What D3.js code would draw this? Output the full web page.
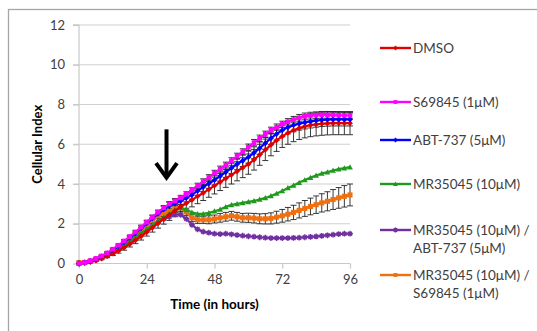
<!DOCTYPE html>
<html><head><meta charset="utf-8">
<script src="https://cdn.jsdelivr.net/npm/d3@7"></script>
<style>
html,body{margin:0;padding:0;background:#fff;}
svg{display:block;font-family:Lato,"Open Sans",sans-serif;}
</style></head>
<body>
<svg id="chart" width="537" height="331"></svg>
<script>
// ---- data ----
const hours = d3.range(0, 97, 2); // 0,2,...,96 sampling times
const xTicks = [0, 24, 48, 72, 96];
const yTicks = [0, 2, 4, 6, 8, 10, 12];
const seriesNames = ["DMSO", "S69845 (1μM)", "ABT-737 (5μM)", "MR35045 (10μM)", "MR35045 (10μM) /|ABT-737 (5μM)", "MR35045 (10μM) /|S69845 (1μM)"];
const seriesColors = ["#e00000", "#ff00ff", "#0000ff", "#1f9a1f", "#7030a0", "#f07010"];
const seriesMarkers = ["diamond", "square", "diamond", "triangle", "star", "square"];

const dmso = [0,0.03,0.08,0.15,0.25,0.37,0.5,0.64,0.8,0.98,1.17,1.37,1.58,1.8,2.02,2.24,2.45,2.65,2.85,3.03,3.2,3.38,3.55,3.73,3.92,4.1,4.28,4.46,4.64,4.82,5.0,5.22,5.47,5.72,5.97,6.2,6.4,6.57,6.7,6.81,6.9,6.96,7.0,7.03,7.05,7.06,7.06,7.06,7.06];
const s69845 = [0,0.05,0.14,0.25,0.38,0.53,0.72,0.92,1.13,1.35,1.58,1.83,2.08,2.33,2.58,2.8,3.0,3.15,3.3,3.48,3.68,3.9,4.12,4.33,4.55,4.75,4.95,5.17,5.4,5.62,5.85,6.08,6.3,6.5,6.7,6.86,7.0,7.13,7.24,7.33,7.4,7.44,7.46,7.48,7.48,7.47,7.46,7.45,7.45];
const abt737 = [0,0.05,0.13,0.23,0.36,0.51,0.69,0.88,1.08,1.29,1.52,1.77,2.02,2.27,2.5,2.72,2.9,3.03,3.15,3.3,3.45,3.65,3.85,4.02,4.2,4.4,4.6,4.8,5.0,5.17,5.35,5.57,5.8,6.05,6.3,6.52,6.7,6.85,6.96,7.04,7.1,7.15,7.19,7.22,7.24,7.25,7.25,7.25,7.25];
const mr35045 = [0,0.04,0.1,0.19,0.3,0.43,0.58,0.75,0.93,1.12,1.32,1.52,1.72,1.93,2.13,2.32,2.5,2.68,2.8,2.7,2.57,2.5,2.5,2.55,2.63,2.72,2.85,2.95,3.0,3.05,3.1,3.15,3.22,3.3,3.4,3.52,3.65,3.8,3.93,4.07,4.2,4.32,4.43,4.53,4.6,4.68,4.75,4.8,4.85];
const mrAbt = [0,0.04,0.1,0.18,0.28,0.4,0.54,0.7,0.88,1.06,1.25,1.45,1.65,1.88,2.08,2.25,2.35,2.47,2.45,2.25,1.95,1.72,1.6,1.55,1.5,1.48,1.5,1.47,1.43,1.4,1.37,1.35,1.32,1.3,1.28,1.28,1.28,1.28,1.29,1.3,1.32,1.34,1.36,1.39,1.42,1.45,1.48,1.5,1.5];
const mrS69 = [0.05,0.05,0.12,0.22,0.34,0.48,0.64,0.83,1.03,1.24,1.46,1.7,1.95,2.18,2.4,2.53,2.62,2.75,2.8,2.6,2.3,2.2,2.2,2.2,2.24,2.3,2.35,2.4,2.35,2.3,2.3,2.28,2.25,2.25,2.27,2.33,2.4,2.48,2.57,2.67,2.77,2.87,2.96,3.05,3.13,3.22,3.3,3.38,3.45];
const seriesValues = [dmso, s69845, abt737, mr35045, mrAbt, mrS69];

const dmsoErr = [0,0.02,0.03,0.05,0.06,0.08,0.1,0.12,0.13,0.15,0.17,0.19,0.2,0.22,0.24,0.26,0.28,0.3,0.31,0.33,0.35,0.37,0.38,0.4,0.42,0.43,0.45,0.46,0.48,0.5,0.51,0.52,0.53,0.54,0.55,0.56,0.56,0.57,0.57,0.57,0.58,0.58,0.58,0.58,0.58,0.58,0.58,0.58,0.58];
const s69845Err = [0,0.02,0.03,0.04,0.05,0.06,0.06,0.07,0.08,0.08,0.09,0.1,0.1,0.11,0.11,0.12,0.12,0.12,0.13,0.13,0.13,0.14,0.14,0.14,0.14,0.15,0.15,0.15,0.15,0.15,0.16,0.16,0.16,0.16,0.16,0.16,0.16,0.16,0.16,0.17,0.17,0.17,0.17,0.17,0.17,0.17,0.17,0.17,0.17];
const abt737Err = [0,0.02,0.03,0.04,0.05,0.06,0.07,0.08,0.09,0.1,0.11,0.12,0.13,0.14,0.15,0.16,0.17,0.18,0.19,0.2,0.21,0.22,0.23,0.24,0.25,0.26,0.27,0.28,0.28,0.29,0.3,0.3,0.31,0.31,0.32,0.32,0.32,0.33,0.33,0.33,0.33,0.33,0.33,0.33,0.33,0.33,0.33,0.33,0.33];
const mrS69Err = [0,0.02,0.03,0.04,0.05,0.06,0.07,0.08,0.09,0.1,0.11,0.12,0.13,0.14,0.15,0.16,0.17,0.18,0.18,0.18,0.18,0.18,0.18,0.2,0.2,0.22,0.22,0.22,0.22,0.22,0.23,0.24,0.25,0.26,0.28,0.3,0.32,0.34,0.36,0.38,0.4,0.42,0.44,0.46,0.48,0.5,0.52,0.54,0.55];
const seriesErrors = [dmsoErr, s69845Err, abt737Err, null, null, mrS69Err];

// ---- layout ----
const svg = d3.select("#chart");
const x = d3.scaleLinear().domain([0, 96]).range([79, 350]);
const y = d3.scaleLinear().domain([0, 12]).range([263.5, 25]);

// outer frame
svg.append("rect").attr("x", 8.5).attr("y", 9.5).attr("width", 600).attr("height", 400)
  .attr("fill", "none").attr("stroke", "#a6a6a6").attr("stroke-width", 1.3);

// gridlines
svg.append("g").selectAll("line").data(yTicks.filter(d => d > 0)).join("line")
  .attr("x1", 73).attr("x2", x(96)).attr("y1", d => y(d)).attr("y2", d => y(d))
  .attr("stroke", "#d0d0d0").attr("stroke-width", 1.2);

// y axis
const yAxis = d3.axisLeft(y).tickValues(yTicks).tickSize(6).tickPadding(8).tickFormat(d3.format("d"));
const gy = svg.append("g").attr("transform", `translate(${x(0)},0)`).call(yAxis);
gy.select(".domain").attr("stroke", "#c8c8c8").attr("stroke-width", 1.2).attr("d", `M-6,${y(12)}H0V${y(0)}`);
gy.selectAll(".tick line").attr("stroke", "#c8c8c8").attr("stroke-width", 1.2);
gy.selectAll(".tick text").attr("fill", "#404040").attr("font-size", 13).attr("font-family", "Lato,'Open Sans',sans-serif");

// x axis
const xAxis = d3.axisBottom(x).tickValues(xTicks).tickSize(5).tickPadding(6).tickFormat(d3.format("d"));
const gx = svg.append("g").attr("transform", `translate(0,${y(0)})`).call(xAxis);
gx.select(".domain").attr("stroke", "#c8c8c8").attr("stroke-width", 1.2).attr("d", `M${x(0)},0H${x(96)}`);
gx.selectAll(".tick line").attr("stroke", "#c8c8c8").attr("stroke-width", 1.2);
gx.selectAll(".tick text").attr("fill", "#404040").attr("font-size", 13).attr("font-family", "Lato,'Open Sans',sans-serif");

// axis titles
svg.append("text").attr("x", (x(0) + x(96)) / 2).attr("y", 309).attr("text-anchor", "middle")
  .attr("font-weight", "bold").attr("font-size", 13.5).attr("fill", "#000").text("Time (in hours)");
svg.append("text").attr("transform", `translate(42,${y(6)}) rotate(-90)`).attr("text-anchor", "middle")
  .attr("font-weight", "bold").attr("font-size", 13).attr("fill", "#000").text("Cellular Index");

// error bars (drawn beneath lines)
const errG = svg.append("g");
seriesValues.forEach((vals, si) => {
  const errs = seriesErrors[si];
  if (!errs) return;
  hours.forEach((h, i) => {
    if (errs[i] <= 0) return;
    const cx = x(h), y1 = y(vals[i] - errs[i]), y2 = y(vals[i] + errs[i]);
    errG.append("line").attr("x1", cx).attr("x2", cx).attr("y1", y1).attr("y2", y2)
      .attr("stroke", "#222").attr("stroke-width", 0.9);
    [y1, y2].forEach(yy => errG.append("line").attr("x1", cx - 3).attr("x2", cx + 3)
      .attr("y1", yy).attr("y2", yy).attr("stroke", "#222").attr("stroke-width", 0.9));
  });
});

// marker generator
function marker(g, type, cx, cy, color, s) {
  if (type === "diamond") {
    g.append("path").attr("d", `M${cx},${cy - s}L${cx + s},${cy}L${cx},${cy + s}L${cx - s},${cy}Z`).attr("fill", color);
  } else if (type === "square") {
    g.append("rect").attr("x", cx - s * 0.8).attr("y", cy - s * 0.8).attr("width", s * 1.6).attr("height", s * 1.6).attr("fill", color);
  } else if (type === "triangle") {
    g.append("path").attr("d", `M${cx},${cy - s}L${cx + s},${cy + s * 0.8}L${cx - s},${cy + s * 0.8}Z`).attr("fill", color);
  } else if (type === "star") {
    g.append("path").attr("d", `M${cx - s},${cy}H${cx + s}M${cx},${cy - s}V${cy + s}M${cx - s * 0.7},${cy - s * 0.7}L${cx + s * 0.7},${cy + s * 0.7}M${cx - s * 0.7},${cy + s * 0.7}L${cx + s * 0.7},${cy - s * 0.7}`)
      .attr("stroke", color).attr("stroke-width", 1.4);
  }
}

// lines
const drawOrder = [5, 4, 3, 0, 2, 1];
const lineGen = d3.line().x(d => x(d[0])).y(d => y(d[1]));
drawOrder.forEach(si => {
  const vals = seriesValues[si];
  const pts = hours.map((h, i) => [h, vals[i]]);
  const g = svg.append("g");
  g.append("path").attr("d", lineGen(pts)).attr("fill", "none")
    .attr("stroke", seriesColors[si]).attr("stroke-width", si === 5 ? 2.8 : 2.2);
  pts.forEach(p => marker(g, seriesMarkers[si], x(p[0]), y(p[1]), seriesColors[si], si === 5 ? 3.2 : 2.9));
});

// arrow annotation (treatment time)
const arrowT = 31;
const ag = svg.append("g").attr("stroke", "#000").attr("stroke-width", 4).attr("fill", "none").attr("stroke-linecap", "butt");
ag.append("line").attr("x1", x(arrowT)).attr("x2", x(arrowT)).attr("y1", y(6.75)).attr("y2", y(4.4));
ag.append("path").attr("d", `M${x(arrowT) - 10.5},${y(5.05)}L${x(arrowT)},${y(4.32)}L${x(arrowT) + 10.5},${y(5.05)}`).attr("stroke-linejoin", "miter");

// legend
const legendY = [[48], [102], [140], [184], [230, 248], [275, 293]];
const lg = svg.append("g");
seriesNames.forEach((name, si) => {
  const ly = legendY[si][0];
  lg.append("line").attr("x1", 380).attr("x2", 411).attr("y1", ly).attr("y2", ly)
    .attr("stroke", seriesColors[si]).attr("stroke-width", 2.4);
  marker(lg, seriesMarkers[si], 395.5, ly, seriesColors[si], 2.4);
  name.split("|").forEach((part, k) => {
    lg.append("text").attr("x", 413).attr("y", legendY[si][k]).attr("dy", "0.35em")
      .attr("font-size", 13.5).attr("fill", "#404040").text(part);
  });
});
</script>
</body></html>
